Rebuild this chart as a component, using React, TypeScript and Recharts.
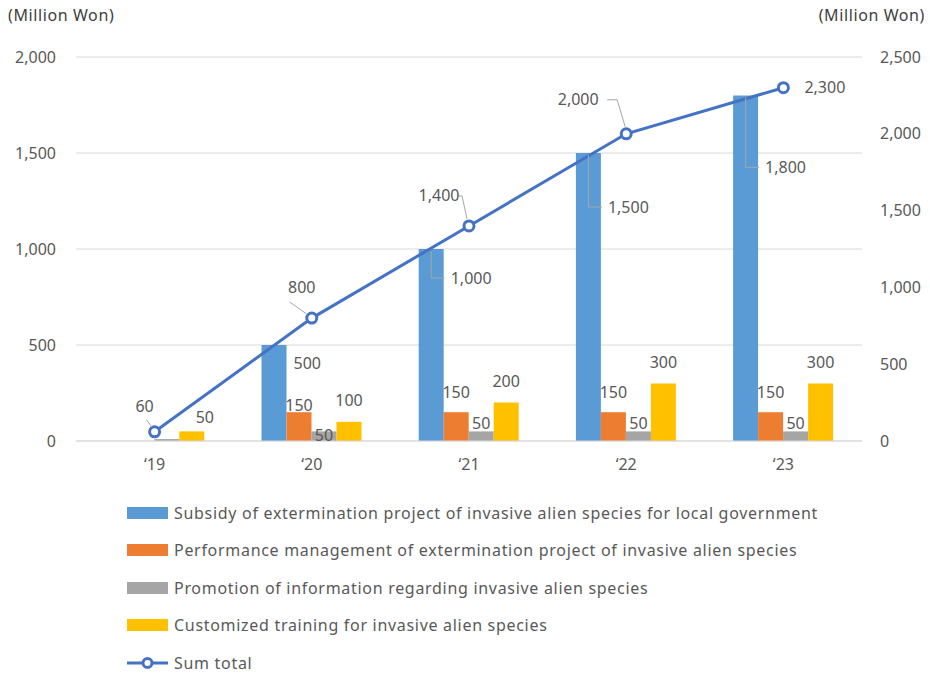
import { ComposedChart, Bar, Line, XAxis, YAxis, CartesianGrid, LabelList } from "recharts";

const YEARS = ["‘19", "‘20", "‘21", "‘22", "‘23"];
const SUBSIDY = [0, 500, 1000, 1500, 1800];
const PERFORMANCE = [0, 150, 150, 150, 150];
const PROMOTION = [10, 50, 50, 50, 50];
const TRAINING = [50, 100, 200, 300, 300];
const SUM_TOTAL = [60, 800, 1400, 2000, 2300];
const LEFT_TICKS = [0, 500, 1000, 1500, 2000];
const RIGHT_TICKS = [0, 500, 1000, 1500, 2000, 2500];

const SERIES_NAMES = [
  "Subsidy of extermination project of invasive alien species for local government",
  "Performance management of extermination project of invasive alien species",
  "Promotion of information regarding invasive alien species",
  "Customized training for invasive alien species",
  "Sum total",
];

const BLUE = "#5B9BD5";
const ORANGE = "#ED7D31";
const GRAY = "#A5A5A5";
const YELLOW = "#FFC000";
const LINE = "#4472C4";
const TEXT = "#595959";
const LEADER = "#A6A6A6";
const FONT = "'Noto Sans', sans-serif";

const data = YEARS.map((year, i) => ({
  year,
  subsidy: SUBSIDY[i],
  performance: PERFORMANCE[i],
  promotion: PROMOTION[i],
  training: TRAINING[i],
  total: SUM_TOTAL[i],
}));

const fmt = (v: number) => v.toLocaleString("en-US");

const txt = { fill: TEXT, fontSize: 16, fontFamily: FONT };

// plot geometry, used only to find which year a label belongs to
// (recharts skips zero-height bars so LabelList's index shifts)
const PLOT_LEFT = 76;
const PLOT_WIDTH = 786;
const catOf = (x: number, w: number) =>
  Math.floor(((x + w / 2 - PLOT_LEFT) / PLOT_WIDTH) * YEARS.length);

// label placement tweaks, mimic Excel's dragged labels
const BLUE_DROP = [0, 18, 29, 54, 72];
const ORANGE_DY = [0, -7, -20, -20, -20];
const GRAY_DY = [0, 4, -8, -8, -8];

function BlueLabel(p: any) {
  const { x, y, width, value } = p;
  if (!value) return null;
  const i = catOf(x, width);
  const ly = y + BLUE_DROP[i];
  return (
    <g>
      {i >= 2 && (
        <polyline
          points={`${x + width / 2},${y + 2} ${x + width / 2},${ly} ${x + width + 1},${ly}`}
          fill="none"
          stroke={LEADER}
          strokeWidth={1}
        />
      )}
      <text x={x + width + 7} y={ly} dy="0.35em" textAnchor="start" {...txt}>
        {fmt(value)}
      </text>
    </g>
  );
}

function CenterLabel(offsets: number[]) {
  return (p: any) => {
    const { x, y, width, value } = p;
    const i = catOf(x, width);
    if (!value || i === 0) return null;
    return (
      <text x={x + width / 2} y={y + offsets[i]} dy="0.35em" textAnchor="middle" {...txt}>
        {fmt(value)}
      </text>
    );
  };
}

function YellowLabel(p: any) {
  const { x, y, width, value } = p;
  if (!value) return null;
  const i = catOf(x, width);
  const dx = i === 0 ? 13 : 0;
  const dy = i === 0 ? -14 : -21;
  return (
    <text x={x + width / 2 + dx} y={y + dy} dy="0.35em" textAnchor="middle" {...txt}>
      {fmt(value)}
    </text>
  );
}

// text offset and leader polyline (relative to the point)
const LINE_LABEL = [
  { dx: -10, dy: -25, anchor: "middle", leader: [[-8, -12], [-3, -5]] },
  { dx: -10, dy: -31, anchor: "middle", leader: [[-22, -16], [-5, -4]] },
  { dx: -30, dy: -31, anchor: "middle", leader: [[-11, -30], [-7, -30], [-2, -7]] },
  { dx: -48, dy: -34, anchor: "middle", leader: [[-19, -34], [-9, -34], [-1, -7]] },
  { dx: 21, dy: 0, anchor: "start", leader: [] as number[][] },
];

function LineLabel(p: any) {
  const { x, y, value, index } = p;
  const cfg = LINE_LABEL[index];
  return (
    <g>
      {cfg.leader.length > 0 && (
        <polyline
          points={cfg.leader.map(([a, b]) => `${x + a},${y + b}`).join(" ")}
          fill="none"
          stroke={LEADER}
          strokeWidth={1}
        />
      )}
      <text x={x + cfg.dx} y={y + cfg.dy} dy="0.35em" textAnchor={cfg.anchor as any} {...txt}>
        {fmt(value)}
      </text>
    </g>
  );
}

const LEGEND_COLORS = [BLUE, ORANGE, GRAY, YELLOW];

function LegendBox() {
  return (
    <div
      style={{
        position: "absolute",
        left: 127,
        top: 494,
        fontFamily: FONT,
        fontSize: 16,
        letterSpacing: 0.7,
        color: TEXT,
      }}
    >
      {SERIES_NAMES.map((name, i) => (
        <div key={name} style={{ display: "flex", alignItems: "center", height: 37.5 }}>
          {i < 4 ? (
            <div style={{ width: 41, height: 12, background: LEGEND_COLORS[i], marginRight: 6 }} />
          ) : (
            <svg width={41} height={14} style={{ marginRight: 6 }}>
              <line x1={0} y1={7} x2={41} y2={7} stroke={LINE} strokeWidth={3} />
              <circle cx={20.5} cy={7} r={4.5} fill="#fff" stroke={LINE} strokeWidth={3} />
            </svg>
          )}
          <span style={{ whiteSpace: "nowrap" }}>{name}</span>
        </div>
      ))}
    </div>
  );
}

export default function App() {
  const unit = {
    position: "absolute" as const,
    top: 4,
    fontFamily: FONT,
    fontSize: 16,
    letterSpacing: 0.6,
    color: "#404040",
  };
  return (
    <div style={{ position: "absolute", left: 0, top: 0, width: 930, height: 675, background: "#fff" }}>
      <div style={{ ...unit, left: 8 }}>(Million Won)</div>
      <div style={{ ...unit, right: 5 }}>(Million Won)</div>
      <ComposedChart
        width={930}
        height={675}
        data={data}
        margin={{ top: 57, right: 0, bottom: 204, left: 0 }}
        barCategoryGap="18%"
        barGap={0}
      >
        <CartesianGrid vertical={false} stroke="#D9D9D9" />
        <XAxis
          dataKey="year"
          height={30}
          axisLine={{ stroke: "#D9D9D9" }}
          tickLine={false}
          tickSize={0}
          tickMargin={18}
          tick={{ ...txt }}
        />
        <YAxis
          width={76}
          domain={[0, 2000]}
          ticks={LEFT_TICKS}
          axisLine={false}
          tickLine={false}
          tickSize={0}
          tickMargin={20}
          tickFormatter={fmt}
          tick={{ ...txt }}
        />
        <YAxis
          yAxisId="right"
          orientation="right"
          width={68}
          domain={[0, 2500]}
          ticks={RIGHT_TICKS}
          axisLine={false}
          tickLine={false}
          tickSize={0}
          tickMargin={18}
          tickFormatter={fmt}
          tick={{ ...txt }}
        />
        <Bar dataKey="subsidy" name={SERIES_NAMES[0]} fill={BLUE} isAnimationActive={false}>
          <LabelList dataKey="subsidy" content={BlueLabel} />
        </Bar>
        <Bar dataKey="performance" name={SERIES_NAMES[1]} fill={ORANGE} isAnimationActive={false}>
          <LabelList dataKey="performance" content={CenterLabel(ORANGE_DY)} />
        </Bar>
        <Bar dataKey="promotion" name={SERIES_NAMES[2]} fill={GRAY} isAnimationActive={false}>
          <LabelList dataKey="promotion" content={CenterLabel(GRAY_DY)} />
        </Bar>
        <Bar dataKey="training" name={SERIES_NAMES[3]} fill={YELLOW} isAnimationActive={false}>
          <LabelList dataKey="training" content={YellowLabel} />
        </Bar>
        <Line
          yAxisId="right"
          dataKey="total"
          name={SERIES_NAMES[4]}
          stroke={LINE}
          strokeWidth={3}
          dot={{ r: 5, fill: "#fff", stroke: LINE, strokeWidth: 3 }}
          isAnimationActive={false}
        >
          <LabelList dataKey="total" content={LineLabel} />
        </Line>
      </ComposedChart>
      <LegendBox />
    </div>
  );
}
